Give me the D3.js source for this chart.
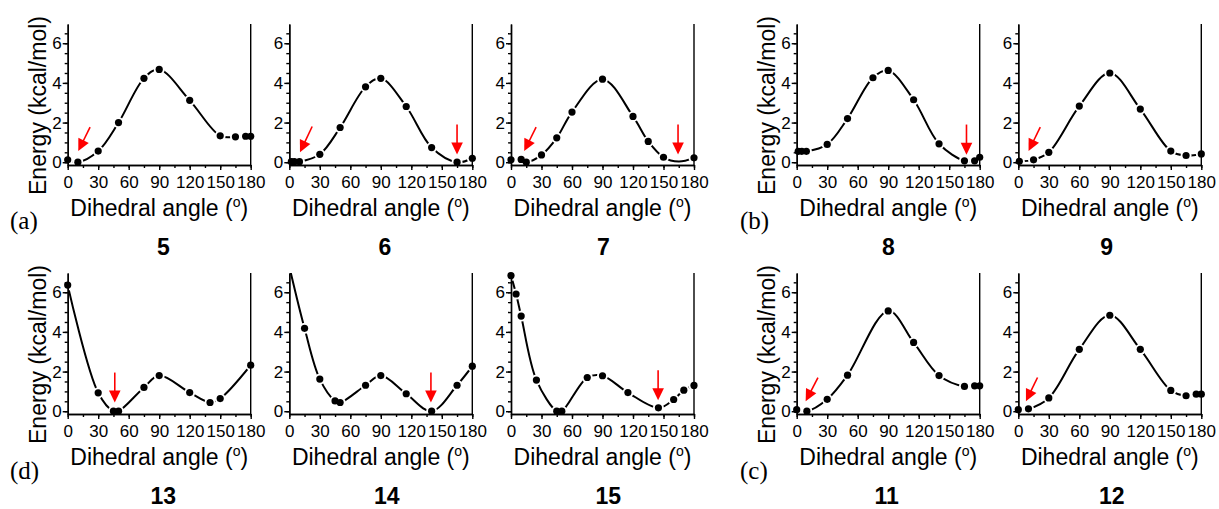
<!DOCTYPE html>
<html>
<head>
<meta charset="utf-8">
<script src="https://cdn.jsdelivr.net/npm/d3@7"></script>
<style>
  body { margin: 0; background: #fff; }
  text { font-family: "Liberation Sans", Arial, sans-serif; fill: #000; }
</style>
</head>
<body>
<div id="chart"></div>
<script>
// DATA (dihedral angle in degrees, energy in kcal/mol)
const angles5  = [0, 10, 30, 50, 75, 90, 120, 150, 165, 175, 180];
const energy5  = [0.12, 0, 0.56, 2.0, 4.23, 4.68, 3.12, 1.33, 1.28, 1.31, 1.31];

const angles6  = [2, 5, 10, 30, 50, 75, 90, 115, 140, 165, 180];
const energy6  = [0.03, 0.03, 0.03, 0.4, 1.75, 3.8, 4.23, 2.81, 0.74, 0, 0.2];

const angles7  = [0, 10, 15, 30, 45, 60, 90, 120, 135, 150, 180];
const energy7  = [0.12, 0.14, 0, 0.37, 1.23, 2.53, 4.19, 2.31, 1.05, 0.25, 0.22];

const angles8  = [1.5, 5, 9.5, 30, 50, 75, 90, 115, 140, 165, 175, 180];
const energy8  = [0.55, 0.55, 0.55, 0.9, 2.2, 4.26, 4.63, 3.15, 0.93, 0.07, 0.07, 0.25];

const angles9  = [1, 15, 30, 60, 90, 120, 150, 165, 180];
const energy9  = [0.05, 0.12, 0.5, 2.83, 4.5, 2.68, 0.56, 0.34, 0.42];

const angles13 = [0, 30, 45, 50, 75, 90, 120, 140, 150, 180];
const energy13 = [6.36, 0.93, 0, 0, 1.2, 1.8, 0.94, 0.44, 0.64, 2.32];

const angles14 = [15, 30, 45, 50, 75, 90, 115, 140, 165, 180];
const energy14 = [4.18, 1.62, 0.52, 0.44, 1.31, 1.8, 0.88, 0, 1.31, 2.27];

const angles15 = [0, 5, 10, 25, 45, 50, 75, 90, 115, 145, 160, 170, 180];
const energy15 = [6.84, 5.91, 4.8, 1.57, 0, 0, 1.7, 1.79, 0.94, 0.17, 0.59, 1.06, 1.3];

const angles11 = [0, 10, 30, 50, 90, 115, 140, 165, 175, 180];
const energy11 = [0.08, 0, 0.6, 1.82, 5.06, 3.47, 1.8, 1.25, 1.28, 1.28];

const angles12 = [0, 10, 30, 60, 90, 120, 150, 165, 175, 180];
const energy12 = [0.08, 0.12, 0.67, 3.12, 4.84, 3.12, 1.05, 0.78, 0.86, 0.86];

// points where the fitted curve passes but no symbol is drawn
const curveOnly7  = [[165, 0.04]];
const curveOnly14 = [[0, 7.3]];

// red arrows [tailAngle, tailEnergy, tipAngle, tipEnergy]
const arrows5  = [[22, 1.77, 10.4, 0.56]];
const arrows6  = [[22.5, 1.8, 10.5, 0.5], [165, 1.9, 165, 0.39]];
const arrows7  = [[24.7, 1.77, 13, 0.56], [164.3, 1.9, 164.3, 0.39]];
const arrows8  = [[167, 1.9, 167, 0.38]];
const arrows9  = [[21.6, 1.77, 10.1, 0.56]];
const arrows13 = [[46.3, 1.95, 46.3, 0.44]];
const arrows14 = [[139.3, 1.95, 139.3, 0.44]];
const arrows15 = [[144.7, 2.07, 144.7, 0.55]];
const arrows11 = [[20.9, 1.7, 8.8, 0.5]];
const arrows12 = [[18.9, 1.7, 7.5, 0.5]];

const xTicks = [0, 30, 60, 90, 120, 150, 180];
const yTicks = [0, 2, 4, 6];
const xTitle = "Dihedral angle (";
const yTitle = "Energy (kcal/mol)";

// LAYOUT
const panels = [
  { name: "5",  a: angles5,  e: energy5,  extra: [],          arrows: arrows5,  left: 67.7,   top: 24,  lx: 163.3,  yt: true },
  { name: "6",  a: angles6,  e: energy6,  extra: [],          arrows: arrows6,  left: 289.3,  top: 24,  lx: 385 },
  { name: "7",  a: angles7,  e: energy7,  extra: curveOnly7,  arrows: arrows7,  left: 511,    top: 24,  lx: 603.3 },
  { name: "8",  a: angles8,  e: energy8,  extra: [],          arrows: arrows8,  left: 796.7,  top: 24,  lx: 888.3,  yt: true },
  { name: "9",  a: angles9,  e: energy9,  extra: [],          arrows: arrows9,  left: 1018.3, top: 24,  lx: 1106.7 },
  { name: "13", a: angles13, e: energy13, extra: [],          arrows: arrows13, left: 67.7,   top: 273, lx: 163.3,  yt: true },
  { name: "14", a: angles14, e: energy14, extra: curveOnly14, arrows: arrows14, left: 289.3,  top: 273, lx: 386.7 },
  { name: "15", a: angles15, e: energy15, extra: [],          arrows: arrows15, left: 511,    top: 273, lx: 608.3 },
  { name: "11", a: angles11, e: energy11, extra: [],          arrows: arrows11, left: 796.7,  top: 273, lx: 886.7,  yt: true },
  { name: "12", a: angles12, e: energy12, extra: [],          arrows: arrows12, left: 1018.3, top: 273, lx: 1111.7 }
];
const groupLabels = [
  { t: "(a)", x: 10,  y: 229 },
  { t: "(b)", x: 740, y: 229 },
  { t: "(d)", x: 10,  y: 479 },
  { t: "(c)", x: 740, y: 479 }
];

const pw = 183, ph = 141;

const svg = d3.select("#chart")
  .append("svg")
  .attr("width", 1219)
  .attr("height", 509);

const xs = d3.scaleLinear().domain([0, 180]).range([0, pw]);
const ys = d3.scaleLinear().domain([-0.14, 6.97]).range([ph, 0]);

const line = d3.line()
  .x(d => xs(d[0]))
  .y(d => ys(d[1]))
  .curve(d3.curveCatmullRom.alpha(0.5));

panels.forEach((p, i) => {
  const g = svg.append("g").attr("transform", `translate(${p.left},${p.top})`);

  g.append("clipPath").attr("id", "clip" + i)
    .append("rect").attr("x", 0).attr("y", 0).attr("width", pw).attr("height", ph);

  const pts = p.a.map((a, j) => [a, p.e[j]]);
  const knots = pts.concat(p.extra).sort((u, v) => u[0] - v[0]);

  // fitted curve
  g.append("path")
    .datum(knots)
    .attr("clip-path", `url(#clip${i})`)
    .attr("d", line)
    .attr("fill", "none")
    .attr("stroke", "#000")
    .attr("stroke-width", 2);

  // gaps in the line around each symbol
  g.append("g").selectAll("circle")
    .data(pts).enter().append("circle")
    .attr("cx", d => xs(d[0]))
    .attr("cy", d => ys(d[1]))
    .attr("r", 5.5)
    .attr("fill", "#fff");

  // axes
  const yMinor = g.append("g").call(d3.axisLeft(ys).tickValues(d3.range(0, 7, 0.5)).tickSize(3).tickSizeOuter(0).tickFormat(""));
  const yAxis = g.append("g").call(d3.axisLeft(ys).tickValues(yTicks).tickSize(5).tickSizeOuter(0).tickPadding(1));
  const xMinor = g.append("g").attr("transform", `translate(0,${ph})`)
    .call(d3.axisBottom(xs).tickValues(d3.range(0, 181, 15)).tickSize(3).tickSizeOuter(0).tickFormat(""));
  const xAxis = g.append("g").attr("transform", `translate(0,${ph})`)
    .call(d3.axisBottom(xs).tickValues(xTicks).tickSize(5).tickSizeOuter(0).tickPadding(6));

  [yMinor, yAxis, xMinor, xAxis].forEach(a => {
    a.selectAll("path, line").attr("stroke", "#000").attr("stroke-width", 1.4);
    a.selectAll("text").style("font-size", "17px").style("font-family", "'Liberation Sans', Arial, sans-serif").attr("fill", "#000");
  });

  g.append("line")
    .attr("x1", pw).attr("x2", pw)
    .attr("y1", 0).attr("y2", ph)
    .attr("stroke", "#000").attr("stroke-width", 1.4);

  // symbols
  g.append("g").selectAll("circle")
    .data(pts).enter().append("circle")
    .attr("cx", d => xs(d[0]))
    .attr("cy", d => ys(d[1]))
    .attr("r", 3.6)
    .attr("fill", "#000");

  // red arrows pointing at the minima
  p.arrows.forEach(ar => {
    const x1 = xs(ar[0]), y1 = ys(ar[1]), x2 = xs(ar[2]), y2 = ys(ar[3]);
    const len = Math.hypot(x2 - x1, y2 - y1);
    const ux = (x2 - x1) / len, uy = (y2 - y1) / len;
    const hl = 12, hw = 5.8;
    const bx = x2 - ux * hl, by = y2 - uy * hl;
    g.append("line")
      .attr("x1", x1).attr("y1", y1)
      .attr("x2", bx + ux).attr("y2", by + uy)
      .attr("stroke", "#ff0000").attr("stroke-width", 1.6);
    g.append("path")
      .attr("d", `M${x2},${y2}L${bx - uy * hw},${by + ux * hw}L${bx + uy * hw},${by - ux * hw}Z`)
      .attr("fill", "#ff0000");
  });

  // x axis title
  const xt = g.append("text")
    .attr("x", pw / 2)
    .attr("y", ph + 51)
    .attr("text-anchor", "middle")
    .style("font-size", "23px");
  xt.append("tspan").text(xTitle);
  xt.append("tspan").attr("dy", -9).style("font-size", "14px").text("o");
  xt.append("tspan").attr("dy", 9).text(")");

  // y axis title, first panel of each group
  if (p.yt) {
    g.append("text")
      .attr("transform", "rotate(-90)")
      .attr("x", -(ph / 2 + 11))
      .attr("y", -22)
      .attr("text-anchor", "middle")
      .style("font-size", "23px")
      .text(yTitle);
  }

  // compound number
  svg.append("text")
    .attr("x", p.lx)
    .attr("y", p.top + 231)
    .attr("text-anchor", "middle")
    .style("font-size", "23px")
    .style("font-weight", "bold")
    .text(p.name);
});

svg.selectAll("text.group")
  .data(groupLabels)
  .enter()
  .append("text")
  .attr("class", "group")
  .attr("x", d => d.x)
  .attr("y", d => d.y)
  .style("font-family", "'Liberation Serif', 'Times New Roman', serif")
  .style("font-size", "25px")
  .text(d => d.t);
</script>
</body>
</html>
